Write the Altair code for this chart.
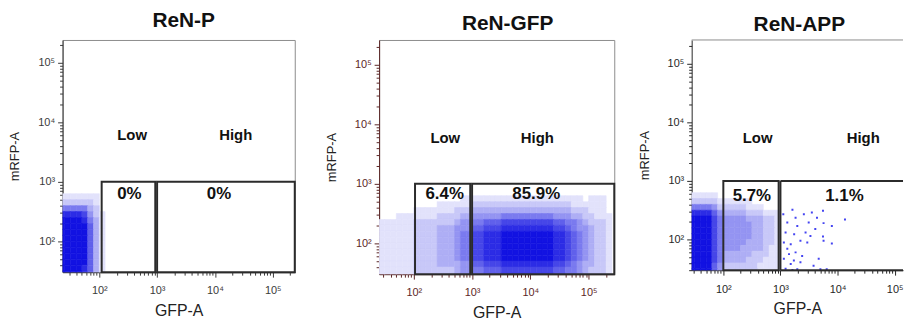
import altair as alt
import pandas as pd

TITLES = ["ReN-P", "ReN-GFP", "ReN-APP"]
GATE_NAMES = ["Low", "High"]
GATE_PCTS = [["0%", "0%"], ["6.4%", "85.9%"], ["5.7%", "1.1%"]]

# axis ranges (GFP-A on x, mRFP-A on y), log scale; the third panel is cut at the right
X_DOMAIN = [[23.2, 240000], [25.4, 275000], [27.9, 140000]]
Y_DOMAIN = [[30.4, 241000], [30.2, 263000], [29.9, 257000]]

# gates
LOW_GATE = [[110, 930], [105, 930], [100, 930]]
HIGH_GATE_START = [1000, 1000, 1000]
GATE_TOP = 1000

# annotation anchor positions (data coordinates)
NAME_Y = [6000, 6000, 5400]
PCT_Y = [630, 660, 560]
LOW_NAME_X = [370, 347, 398]
HIGH_NAME_X = [22900, 13200, 28200]
LOW_PCT_X = [331, 339, 316]
HIGH_PCT_X = [11750, 12600, 13200]

# event density (0 = empty .. 9 = saturated),
# rows: log10(mRFP-A) lower edge, columns: 0.1-decade steps of log10(GFP-A)
Y_ROWS = [2.7, 2.6, 2.5, 2.4, 2.3, 2.2, 2.1, 2.0, 1.9, 1.8, 1.7, 1.6, 1.5, 1.4]
X_START = [1.3, 1.4, 1.4]

P1_DENSITY = [
    "11111110",
    "22222210",
    "55555320",
    "88887421",
    "99998531",
    "99999631",
    "99999631",
    "99999631",
    "99999631",
    "99999631",
    "99999631",
    "99999631",
    "99998631",
    "99998631",
]

P2_DENSITY = [
    "0000000000000011111111111111111111101110",
    "0000000000111111222222222222222221111110",
    "0000001111111222333333333333333332221110",
    "0001111111222233444445555555554443322111",
    "1111112222222344556667777777776655432221",
    "1111112222333444667778888888887765443221",
    "1111112222333455778889999999998876543221",
    "1111112222333455778889999999998876543221",
    "1111112222333455778889999999998876543221",
    "1111112222333455778889999999998876543221",
    "1111112222333455778889999999998876543221",
    "1111112222333344667778888888887765433221",
    "1111112222222344556667777777776655432221",
    "1111112222222344556667777777776655432221",
]

P3_DENSITY = [
    "1111100000000000",
    "2222211111100000",
    "5555422222111000",
    "8888643333222111",
    "9999754444333221",
    "9999754444433221",
    "9999754444433221",
    "9999754444433221",
    "9999754444333221",
    "9999754443333211",
    "9999753333322211",
    "9999753333222111",
    "9999642222221111",
    "9999642222221111",
]
DENSITY = [P1_DENSITY, P2_DENSITY, P3_DENSITY]

# individual events visible in the ReN-APP "High" gate (log10 values)
P3_HIGH_LOG_GFP = [3.21, 3.05, 3.265, 3.41, 3.55, 3.745, 3.64, 3.12, 3.295, 3.495,
                   3.755, 3.90, 4.13, 3.09, 3.24, 3.44, 3.61, 3.525, 3.745, 3.06,
                   3.18, 3.35, 3.47, 3.90, 3.755, 3.12, 3.265, 3.15, 3.38, 3.235,
                   3.06, 3.67, 3.58, 3.35, 3.18, 3.09, 3.21, 3.295, 3.70, 3.81]
P3_HIGH_LOG_RFP = [2.51, 2.43, 2.37, 2.43, 2.46, 2.49, 2.37, 2.29, 2.23, 2.29,
                   2.28, 2.23, 2.34, 2.12, 2.09, 2.12, 2.18, 2.06, 2.05, 1.95,
                   1.92, 1.98, 1.95, 1.93, 1.98, 1.84, 1.78, 1.75, 1.72, 1.64,
                   1.67, 1.67, 1.55, 1.61, 1.58, 1.50, 1.48, 1.49, 1.49, 1.49]

AXIS_COLOR = ["#3a3a3a", "#5c2626", "#262626"]
FRAME_COLOR = "#8c8c8c"
GATE_COLOR = "#2b2b2b"
WIDTH = [234, 237, 213]
HEIGHT = [234, 236, 232]
TITLE_DX = [5, 11, 2]
TITLE_OFFSET = [8, 6, 5]

FONT = "Liberation Sans"
DOT_LIGHT = "#e2e2fb"
DOT_DARK = "#1212e2"

L = "(log(datum.value)/LN10)"
IS_DECADE = f"abs({L} - round({L})) < 0.0001"
LABEL_EXPR = (
    f"({IS_DECADE}) ? ('10' + (round({L})==1 ? '¹' : round({L})==2 ? '²' : "
    f"round({L})==3 ? '³' : round({L})==4 ? '⁴' : '⁵')) : ''"
)


def log_ticks(lo, hi):
    vals = []
    for e in range(0, 7):
        for k in range(1, 10):
            v = k * 10 ** e
            if lo <= v <= hi:
                vals.append(v)
    return vals


def make_axis(title, dom, color, is_x):
    return alt.Axis(
        title=title,
        values=log_ticks(dom[0], dom[1]),
        labelExpr=LABEL_EXPR,
        labelOverlap=False,
        labelFlush=False,
        labelBound=False,
        labelFont=FONT,
        labelFontSize=11,
        labelColor=color,
        labelPadding=8 if is_x else 3,
        tickColor=color,
        tickSize={"condition": {"test": IS_DECADE, "value": 5}, "value": 3},
        domainColor=color,
        grid=False,
        titleFont=FONT,
        titleFontWeight="normal",
        titleFontSize=16 if is_x else 13,
        titleColor="#222222",
        titlePadding=7 if is_x else 16,
    )


def make_panel(i):
    xdom, ydom = X_DOMAIN[i], Y_DOMAIN[i]
    color = AXIS_COLOR[i]
    cut = i == 2
    xs = alt.Scale(type="log", domain=xdom, nice=False, zero=False)
    ys = alt.Scale(type="log", domain=ydom, nice=False, zero=False)
    xa = make_axis("GFP-A", xdom, color, True)
    ya = make_axis("mRFP-A", ydom, color, False)

    def X():
        return alt.X("x:Q", scale=xs, axis=xa)

    def Y():
        return alt.Y("y:Q", scale=ys, axis=ya)

    cells = []
    for r, row in enumerate(DENSITY[i]):
        ylo = Y_ROWS[r]
        for c, ch in enumerate(row):
            d = int(ch)
            if d == 0:
                continue
            xlo = X_START[i] + 0.1 * c
            cells.append({"x": 10 ** xlo, "x2": 10 ** (xlo + 0.1),
                          "y": 10 ** ylo, "y2": 10 ** (ylo + 0.1), "d": d})
    cells = pd.DataFrame(cells)
    dscale = alt.Scale(domain=[1, 9], range=[DOT_LIGHT, DOT_DARK], interpolate="rgb")

    dots = alt.Chart(cells).mark_rect(clip=True, strokeWidth=0.6).encode(
        x=X(), x2="x2:Q", y=Y(), y2="y2:Q",
        color=alt.Color("d:Q", scale=dscale, legend=None),
        stroke=alt.Stroke("d:Q", scale=dscale, legend=None),
    )
    layers = [dots]

    if cut:
        sparse = pd.DataFrame({
            "x": [10 ** v for v in P3_HIGH_LOG_GFP],
            "y": [10 ** v for v in P3_HIGH_LOG_RFP],
        })
        layers.append(
            alt.Chart(sparse).mark_square(size=4, color="#3030f0", opacity=0.9, clip=True)
            .encode(x=X(), y=Y())
        )
        # top frame line only (right side is cut off in the original)
        frame = pd.DataFrame([{"x": xdom[0], "x2": xdom[1], "y": ydom[1], "y2": ydom[1]}])
        layers.append(
            alt.Chart(frame).mark_rule(color=FRAME_COLOR, strokeWidth=1)
            .encode(x=X(), x2="x2:Q", y=Y(), y2="y2:Q")
        )
        gates = pd.DataFrame([
            {"x": LOW_GATE[i][0], "x2": LOW_GATE[i][1], "y": ydom[0], "y2": GATE_TOP},
        ])
        high_edges = pd.DataFrame([
            {"x": HIGH_GATE_START[i], "x2": xdom[1], "y": GATE_TOP, "y2": GATE_TOP},
            {"x": HIGH_GATE_START[i], "x2": HIGH_GATE_START[i], "y": ydom[0], "y2": GATE_TOP},
            {"x": HIGH_GATE_START[i], "x2": xdom[1], "y": ydom[0], "y2": ydom[0]},
        ])
        layers.append(
            alt.Chart(high_edges).mark_rule(color=GATE_COLOR, strokeWidth=2)
            .encode(x=X(), x2="x2:Q", y=Y(), y2="y2:Q")
        )
    else:
        gates = pd.DataFrame([
            {"x": LOW_GATE[i][0], "x2": LOW_GATE[i][1], "y": ydom[0], "y2": GATE_TOP},
            {"x": HIGH_GATE_START[i], "x2": xdom[1], "y": ydom[0], "y2": GATE_TOP},
        ])
    layers.append(
        alt.Chart(gates).mark_rect(fill=None, filled=False, stroke=GATE_COLOR, strokeWidth=2)
        .encode(x=X(), x2="x2:Q", y=Y(), y2="y2:Q")
    )

    names = pd.DataFrame([
        {"x": LOW_NAME_X[i], "y": NAME_Y[i], "t": GATE_NAMES[0]},
        {"x": HIGH_NAME_X[i], "y": NAME_Y[i], "t": GATE_NAMES[1]},
    ])
    layers.append(
        alt.Chart(names).mark_text(font=FONT, fontSize=15, fontWeight="bold",
                                   color="#111111", baseline="middle")
        .encode(x=X(), y=Y(), text="t:N")
    )

    pcts = pd.DataFrame([
        {"x": LOW_PCT_X[i], "y": PCT_Y[i], "t": GATE_PCTS[i][0]},
        {"x": HIGH_PCT_X[i], "y": PCT_Y[i], "t": GATE_PCTS[i][1]},
    ])
    layers.append(
        alt.Chart(pcts).mark_text(font=FONT, fontSize=17, fontWeight="bold",
                                  color="#111111", baseline="middle")
        .encode(x=X(), y=Y(), text="t:N")
    )

    props = dict(
        width=WIDTH[i],
        height=HEIGHT[i],
        title=alt.TitleParams(
            TITLES[i], font=FONT, fontSize=21, fontWeight="bold", color="#111111",
            anchor="middle", frame="group", dx=TITLE_DX[i], offset=TITLE_OFFSET[i],
        ),
        view=alt.ViewBackground(stroke="transparent" if cut else FRAME_COLOR, strokeWidth=1),
    )
    return alt.layer(*layers).properties(**props)


p1, p2, p3 = make_panel(0), make_panel(1), make_panel(2)
inner = alt.hconcat(p1, p2, spacing=28)
chart = (
    alt.hconcat(inner, p3, spacing=21)
    .properties(padding=0, background="white")
)

chart.save("out.html", embed_options={"renderer": "svg", "actions": False})
